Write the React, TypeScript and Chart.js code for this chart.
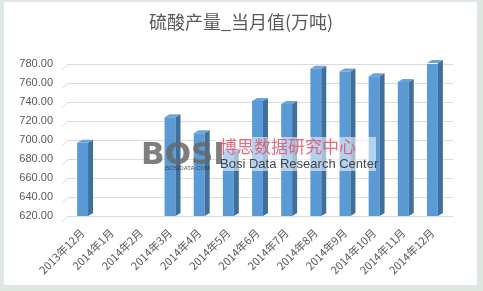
import { useEffect, useRef } from "react";
import { Chart, registerables } from "chart.js";

Chart.register(...registerables);

const title = "硫酸产量_当月值(万吨)";
const categories = [
  "2013年12月",
  "2014年1月",
  "2014年2月",
  "2014年3月",
  "2014年4月",
  "2014年5月",
  "2014年6月",
  "2014年7月",
  "2014年8月",
  "2014年9月",
  "2014年10月",
  "2014年11月",
  "2014年12月",
];
const values: (number | null)[] = [697, null, null, 724, 707, 688, 741, 738, 775, 772, 767, 761, 781];
const yMin = 620;
const yMax = 780;
const yStep = 20;

const FONT = "'Liberation Sans', 'Noto Sans CJK SC', sans-serif";
const CJK = "'Noto Sans CJK SC', 'Liberation Sans', sans-serif";

const framePlugin = {
  id: "frame",
  beforeDraw(chart: any) {
    const { ctx, width, height } = chart;
    ctx.save();
    ctx.fillStyle = "#dfe8e0";
    ctx.fillRect(0, 0, width, height);
    ctx.fillStyle = "#ffffff";
    ctx.fillRect(4, 2, width - 10, height - 8);
    ctx.fillStyle = "#595959";
    ctx.font = `18px ${CJK}`;
    ctx.textAlign = "center";
    ctx.textBaseline = "middle";
    ctx.fillText(title, 241, 22);
    ctx.restore();
  },
  beforeDatasetsDraw(chart: any) {
    const { ctx, chartArea, scales } = chart;
    const y = scales.y;
    ctx.save();
    ctx.strokeStyle = "#dcdcdc";
    ctx.lineWidth = 1;
    y.ticks.forEach((t: any) => {
      const py = Math.round(y.getPixelForValue(t.value)) + 0.5;
      ctx.beginPath();
      ctx.moveTo(chartArea.left - 6, py + 5);
      ctx.lineTo(chartArea.left, py);
      ctx.lineTo(chartArea.right + 6, py);
      ctx.stroke();
    });
    ctx.restore();
  },
};

const bar3dPlugin = {
  id: "bar3d",
  afterDatasetsDraw(chart: any) {
    const { ctx, chartArea } = chart;
    const meta = chart.getDatasetMeta(0);
    const d = 5;
    const dy = 3;
    ctx.save();
    meta.data.forEach((el: any, i: number) => {
      if (values[i] == null) return;
      const p = el.getProps(["x", "y", "base", "width"], true);
      const x = p.x;
      const y = p.y;
      const width = p.width;
      const base = Math.min(p.base, chartArea.bottom);
      const l = x - width / 2;
      const r = x + width / 2;
      ctx.fillStyle = "#3f6f9c";
      ctx.beginPath();
      ctx.moveTo(r, y);
      ctx.lineTo(r + d, y - dy);
      ctx.lineTo(r + d, base - dy);
      ctx.lineTo(r, base);
      ctx.closePath();
      ctx.fill();
      ctx.fillStyle = "#6fa3d8";
      ctx.beginPath();
      ctx.moveTo(l, y);
      ctx.lineTo(l + d, y - dy);
      ctx.lineTo(r + d, y - dy);
      ctx.lineTo(r, y);
      ctx.closePath();
      ctx.fill();
    });
    ctx.restore();
  },
};

const watermarkPlugin = {
  id: "watermark",
  afterDatasetsDraw(chart: any) {
    const { ctx } = chart;
    ctx.save();
    ctx.fillStyle = "rgba(255,255,255,0.55)";
    ctx.fillRect(216, 137, 160, 34);
    ctx.fillStyle = "rgba(105,105,105,0.85)";
    ctx.font = `bold 31px 'DejaVu Sans', sans-serif`;
    ctx.textBaseline = "alphabetic";
    ctx.textAlign = "left";
    ctx.fillText("BOSI", 141, 164);
    ctx.fillStyle = "rgba(60,60,60,0.9)";
    ctx.font = `6px 'Liberation Sans', sans-serif`;
    ctx.fillText("BOSIDATA.COM", 165, 170);
    ctx.fillStyle = "rgba(225,80,110,0.85)";
    ctx.font = `17px ${CJK}`;
    ctx.fillText("博思数据研究中心", 220, 153);
    ctx.fillStyle = "rgba(50,50,60,0.9)";
    ctx.font = `13px 'Liberation Sans Narrow', 'Liberation Sans', sans-serif`;
    ctx.fillText("Bosi Data Research Center", 220, 168);
    ctx.restore();
  },
};

export default function App() {
  const ref = useRef<HTMLCanvasElement | null>(null);
  useEffect(() => {
    document.body.style.margin = "0";
    if (!ref.current) return;
    const chart = new Chart(ref.current, {
      type: "bar",
      data: {
        labels: categories,
        datasets: [
          {
            data: values,
            backgroundColor: "#5b9bd5",
            borderWidth: 0,
            barPercentage: 0.75,
            categoryPercentage: 0.5,
          },
        ],
      },
      options: {
        animation: false,
        responsive: false,
        maintainAspectRatio: false,
        layout: { padding: { left: 0, right: 36, top: 64, bottom: 6 } },
        plugins: {
          legend: { display: false },
          tooltip: { enabled: false },
          title: { display: false },
        },
        scales: {
          x: {
            grid: { display: false },
            border: { display: false },
            ticks: {
              color: "#595959",
              font: { family: CJK, size: 11 },
              minRotation: 45,
              maxRotation: 45,
              autoSkip: false,
              padding: 2,
            },
            afterFit(s: any) {
              s.height = 69;
            },
          },
          y: {
            min: yMin,
            max: yMax,
            ticks: {
              stepSize: yStep,
              color: "#595959",
              font: { family: FONT, size: 11 },
              padding: 15,
              callback: (v: any) => Number(v).toFixed(2),
            },
            grid: { display: false, drawTicks: false },
            border: { display: false },
            afterFit(s: any) {
              s.width = 68;
            },
          },
        },
      },
      plugins: [framePlugin, bar3dPlugin, watermarkPlugin],
    });
    return () => chart.destroy();
  }, []);
  return <canvas ref={ref} width={483} height={291} style={{ display: "block" }} />;
}
